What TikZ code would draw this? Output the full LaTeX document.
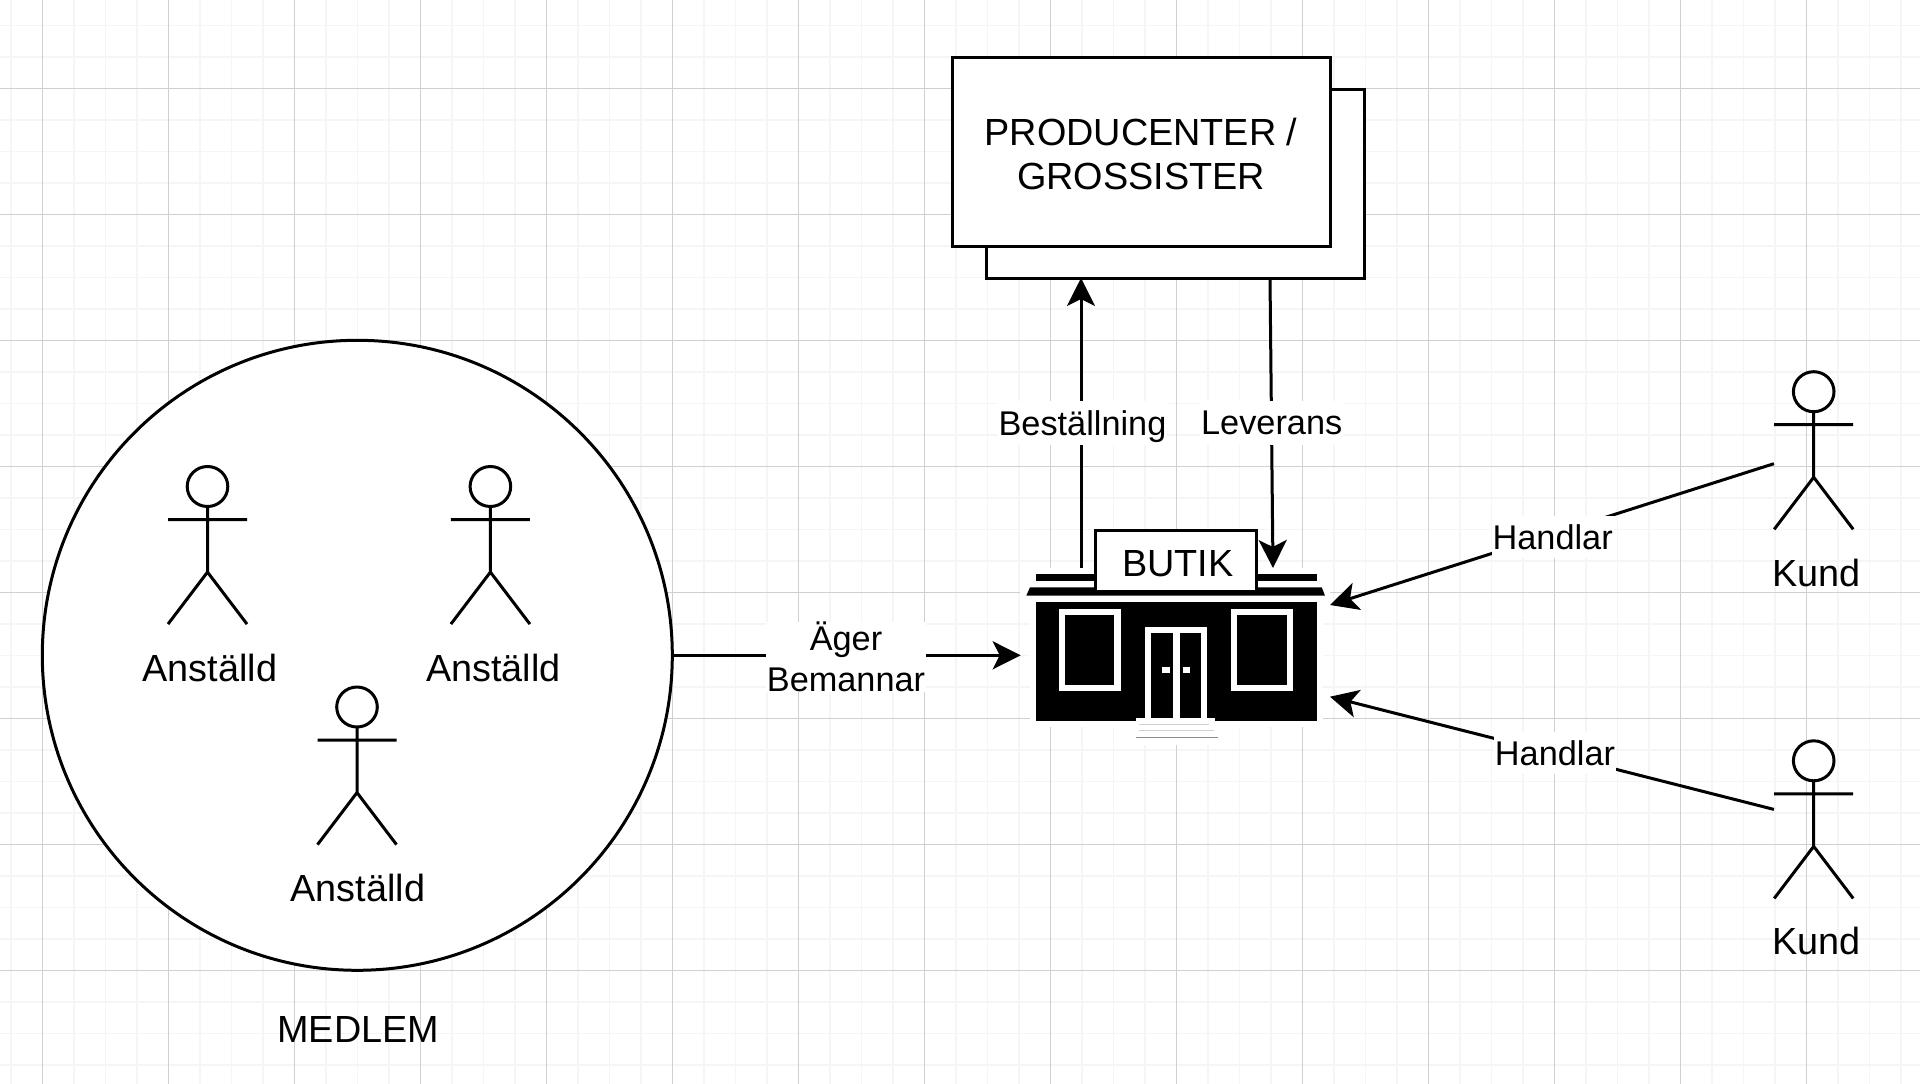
\documentclass[tikz,border=0pt]{standalone}
\usepackage{fontspec}
\setmainfont{Liberation Sans}
\usetikzlibrary{arrows.meta,calc}
\definecolor{gridmajor}{HTML}{D0D0D0}
\definecolor{gridminor}{HTML}{F5F5F5}
\tikzset{
  mainfont/.style={font=\fontsize{37.8}{44}\selectfont},
  edgefont/.style={font=\fontsize{34.3}{41}\selectfont},
  lbl/.style={mainfont,inner sep=0pt,outer sep=0pt,anchor=base},
  elabel/.style={edgefont,fill=white,inner ysep=0pt,inner xsep=1pt,outer sep=0pt,text depth=0pt,align=center},
  boxnode/.style={draw=black,fill=white,line width=3pt,outer sep=0pt,inner sep=0pt},
  conn/.style={draw=black,line width=3pt,-{Stealth[length=28pt,width=28pt,inset=7pt]}},
  actor/.pic={
    \draw[black,line width=3pt,fill=white] (0,20) ellipse [x radius=20.3pt,y radius=20pt];
    \draw[black,line width=3pt] (0,40) -- (0,105.6)
      (-39.5,53) -- (39.5,53)
      (-39.5,157.6) -- (0,105.6) -- (39.5,157.6);
  }
}
\begin{document}
\begin{tikzpicture}[x=1pt,y=-1pt]
\useasboundingbox (0,0) rectangle (1920,1084);
\fill[white] (0,0) rectangle (1920,1084);
% grid
\foreach \k in {0,...,61} {\draw[gridminor,line width=1.6pt] ({10.8+31.5*\k},0) -- ({10.8+31.5*\k},1084);}
\foreach \k in {0,...,34} {\draw[gridminor,line width=1.6pt] (0,{25.3+31.5*\k}) -- (1920,{25.3+31.5*\k});}
\foreach \k in {0,...,15} {\draw[gridmajor,line width=1pt] ({42.3+126*\k},0) -- ({42.3+126*\k},1084);}
\foreach \k in {0,...,7} {\draw[gridmajor,line width=1pt] (0,{88.3+126*\k}) -- (1920,{88.3+126*\k});}
% white halo of the shop picture
\fill[white] (1030,590) rectangle (1323,727);
\fill[white] (1020,568) rectangle (1330,600);
\fill[white] (1135,720) rectangle (1222,745);
% member circle
\node[boxnode,circle,minimum size=630pt] (medlem) at (357.3,655.3) {};
\pic at (207.5,466.5) {actor};
\pic at (490.4,466.5) {actor};
\pic at (357,687) {actor};
\node[lbl] (a1) at (210,681) {Anställd};
\node[lbl] (a2) at (493.5,681) {Anställd};
\node[lbl] (a3) at (358,901.5) {Anställd};
\node[lbl] (medlemtxt) at (358.3,1042.5) {MEDLEM};
% producers
\node[boxnode,minimum width=378pt,minimum height=189pt] (back) at (1175.7,183.5) {};
\node[boxnode,minimum width=378pt,minimum height=189pt] (front) at (1141,151.8) {};
\node[mainfont,align=center,inner sep=0pt] (fronttxt) at (1141,154.4) {PRODUCENTER /\\GROSSISTER};
% customers
\pic at (1813.7,371.7) {actor};
\pic at (1813.7,740.8) {actor};
\node[lbl] (k1) at (1816.4,586.5) {Kund};
\node[lbl] (k2) at (1816.4,954.5) {Kund};
% connector end points
\coordinate (shopW) at (1020.7,655.3);
\coordinate (shopNL) at (1081,567.7);
\coordinate (shopNR) at (1273,568);
\coordinate (shopE1) at (1330,605);
\coordinate (shopE2) at (1330,696.7);
\coordinate (k1hand) at (1773.9,463.7);
\coordinate (k2hand) at (1773.9,809.4);
\coordinate (backR) at (1270,278);
% connectors
\draw[conn] (medlem.east) -- (shopW);
\draw[conn] (shopNL) -- (shopNL |- back.south);
\draw[conn] (backR) -- (shopNR);
\draw[conn] (k1hand) -- (shopE1);
\draw[conn] (k2hand) -- (shopE2);
% connector labels
\node[elabel] (lager) at (846,657) {Äger\\Bemannar};
\node[elabel,minimum height=44pt] (lbest) at (1082.5,422.8) {Beställning};
\node[elabel,minimum height=44pt] (llev) at (1271.7,422.8) {Leverans};
\node[elabel,minimum height=42pt] (lh1) at (1552.7,536.7) {Handlar};
\node[elabel,minimum height=42pt] (lh2) at (1555,753) {Handlar};
% shop
\fill[black] (1036,602) rectangle (1316.7,721);
\fill[black] (1036,574) rectangle (1316.7,581);
\fill[black] (1030,587.3) -- (1321.7,587.3) -- (1325,595.7) -- (1026.3,595.7) -- cycle;
\fill[white] (1136,718.3) rectangle (1215,721);
\fill[white] (1058.7,609) rectangle (1120.7,691.3);
\fill[black] (1065,615.3) rectangle (1114.3,685);
\fill[white] (1230.7,609) rectangle (1292.7,691.3);
\fill[black] (1237,615.3) rectangle (1286.7,685);
\fill[white] (1144.7,627) rectangle (1206.7,721);
\fill[black] (1151,633.3) rectangle (1173.3,718.3);
\fill[black] (1180,633.3) rectangle (1200.7,718.3);
\fill[white] (1161.7,666.7) rectangle (1170,673);
\fill[white] (1183,666.7) rectangle (1190,673);
\draw[gridmajor,line width=0.8pt] (1139,724.3) -- (1209,724.3);
\draw[gridmajor,line width=0.8pt] (1139,730.3) -- (1214,730.3);
\draw[black!45,line width=0.8pt] (1135.7,737.3) -- (1218,737.3);
\node[boxnode,minimum width=160.3pt,minimum height=61pt] (butik) at (1175.85,560.5) {};
\node[mainfont,inner sep=0pt,anchor=base] (butiktxt) at (1177.7,576.7) {BUTIK};
\end{tikzpicture}
\end{document}
